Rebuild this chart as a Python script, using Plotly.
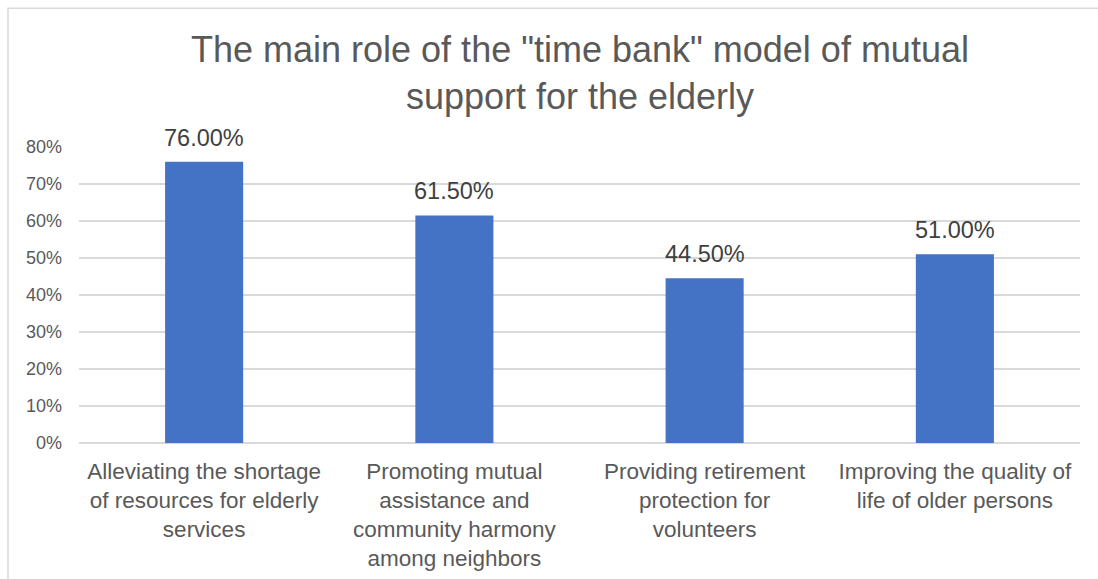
import plotly.graph_objects as go

categories = [
    "Alleviating the shortage<br>of resources for elderly<br>services",
    "Promoting mutual<br>assistance and<br>community harmony<br>among neighbors",
    "Providing retirement<br>protection for<br>volunteers",
    "Improving the quality of<br>life of older persons",
]
values = [0.76, 0.615, 0.445, 0.51]
tick_vals = [0, 0.1, 0.2, 0.3, 0.4, 0.5, 0.6, 0.7, 0.8]
tick_text = ["0%", "10%", "20%", "30%", "40%", "50%", "60%", "70%", "80%"]
title_text = 'The main role of the "time bank" model of mutual<br>support for the elderly'

W, H = 1098, 579
ML, MR, MT, MB = 79, 18, 147, 135.5
pw, ph = W - ML - MR, H - MT - MB

def px_x(x):
    return (x - ML) / pw

def px_y(y):
    return (H - MB - y) / ph

FONT = "Liberation Sans, Arial"

fig = go.Figure(go.Bar(
    x=categories,
    y=values,
    marker=dict(color="#4472C4", line=dict(width=0)),
    cliponaxis=False,
))

annotations = [
    dict(x=c, y=v, xref="x", yref="y", text=f"{v*100:.2f}%",
         showarrow=False, xanchor="center", yanchor="bottom", yshift=9,
         font=dict(family=FONT, size=23.5, color="#404040"))
    for c, v in zip(categories, values)
]
annotations.append(dict(
    x=0.5, xref="paper", y=px_y(27), yref="paper", text=title_text,
    showarrow=False, xanchor="center", yanchor="top",
    font=dict(family=FONT, size=36, color="#595959"),
))

fig.update_layout(
    width=W, height=H,
    margin=dict(l=ML, r=MR, t=MT, b=MB, autoexpand=False),
    paper_bgcolor="white",
    plot_bgcolor="white",
    bargap=0.688,
    showlegend=False,
    font=dict(family=FONT, color="#595959"),
    xaxis=dict(
        showgrid=False, showline=False, ticks="",
        tickfont=dict(size=22.5, color="#595959"),
        ticklabelstandoff=12,
        automargin=False,
    ),
    yaxis=dict(
        range=[0, 0.8],
        tickvals=tick_vals, ticktext=tick_text,
        showgrid=True, gridcolor="#D9D9D9", gridwidth=1.5,
        zeroline=True, zerolinecolor="#D9D9D9", zerolinewidth=1.5,
        showline=False, ticks="",
        tickfont=dict(size=18, color="#595959"),
        ticklabelstandoff=16,
        automargin=False,
    ),
    annotations=annotations,
    shapes=[
        dict(type="rect", xref="paper", yref="paper",
             x0=px_x(8), x1=px_x(1110), y0=px_y(600), y1=px_y(8),
             line=dict(color="#D9D9D9", width=1.5), fillcolor="rgba(0,0,0,0)",
             layer="below"),
    ],
)

fig.write_html("out.html")
